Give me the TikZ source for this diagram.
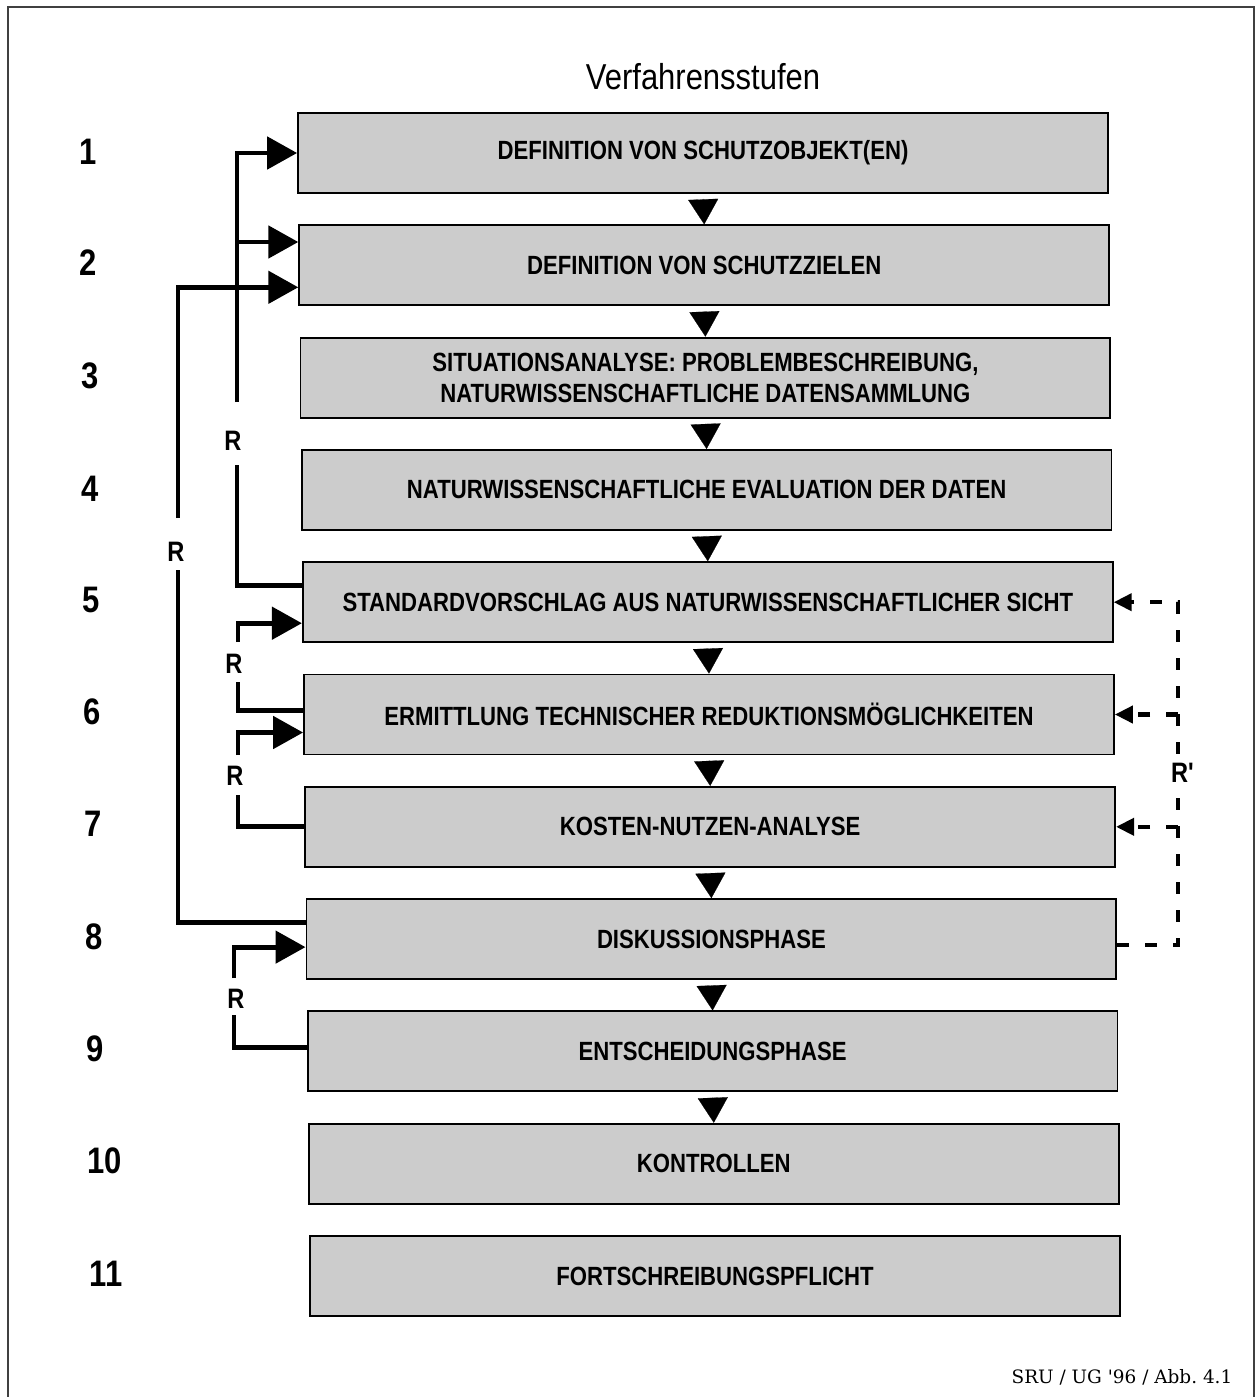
\documentclass[tikz,border=0pt]{standalone}
\usepackage{fontspec}
\setmainfont{Liberation Sans}
\newfontfamily\narrowfont[FakeStretch=0.84]{Liberation Sans}
\newfontfamily\titlefont[FakeStretch=0.86]{Liberation Sans}
\newfontfamily\footfont{DejaVu Serif}
\usepackage{tikz}
\usetikzlibrary{arrows.meta,positioning}

\begin{document}
\begin{tikzpicture}[
x=0.02cm,y=-0.02cm,
StepBox/.style={draw=black,line width=1.1pt,fill=black!20,minimum width=16.2cm,minimum height=1.6cm,align=center,font=\narrowfont\bfseries\fontsize{15}{17.6}\selectfont},
StepNumber/.style={font=\narrowfont\bfseries\fontsize{21}{25}\selectfont},
StepArrow/.style={line width=0.1pt,shorten <=1mm,-{Triangle[length=5mm,width=6mm]}},
Feedback/.style={line width=2.8pt,-{Triangle[length=6mm,width=6.4mm]}},
FeedbackLine/.style={line width=2.8pt},
FeedbackDashed/.style={line width=2.3pt,dash pattern=on 2.4mm off 3.2mm,-{Triangle[length=3.6mm,width=3.4mm]}},
RLabel/.style={font=\narrowfont\bfseries\fontsize{16}{19}\selectfont,inner sep=0pt}
]
\useasboundingbox (0,0) rectangle (1257,1397);
\draw[line width=1pt,black!75] (8,1397) -- (8,7) -- (1254,7) -- (1254,1397);

\node[font=\titlefont\fontsize{20.5}{24}\selectfont] (title) at (703,77) {Verfahrensstufen};

% Verfahrensstufen
\node[StepBox] (b1) at (703,153) {DEFINITION VON SCHUTZOBJEKT(EN)};
\node[StepBox] (b2) at (704.2,265.3) {DEFINITION VON SCHUTZZIELEN};
\node[StepBox] (b3) at (705.4,377.6) {SITUATIONSANALYSE: PROBLEMBESCHREIBUNG,\\NATURWISSENSCHAFTLICHE DATENSAMMLUNG};
\node[StepBox] (b4) at (706.6,489.9) {NATURWISSENSCHAFTLICHE EVALUATION DER DATEN};
\node[StepBox] (b5) at (707.8,602.2) {STANDARDVORSCHLAG AUS NATURWISSENSCHAFTLICHER SICHT};
\node[StepBox] (b6) at (709,714.5) {ERMITTLUNG TECHNISCHER REDUKTIONSMÖGLICHKEITEN};
\node[StepBox] (b7) at (710.2,826.8) {KOSTEN-NUTZEN-ANALYSE};
\node[StepBox] (b8) at (711.4,939.1) {DISKUSSIONSPHASE};
\node[StepBox] (b9) at (712.6,1051.4) {ENTSCHEIDUNGSPHASE};
\node[StepBox] (b10) at (713.8,1163.7) {KONTROLLEN};
\node[StepBox] (b11) at (715,1276) {FORTSCHREIBUNGSPFLICHT};

\node[StepNumber] (n1) at (88,152) {1};
\node[StepNumber] (n2) at (88,263) {2};
\node[StepNumber] (n3) at (90,376) {3};
\node[StepNumber] (n4) at (90,489) {4};
\node[StepNumber] (n5) at (91,600) {5};
\node[StepNumber] (n6) at (92,712) {6};
\node[StepNumber] (n7) at (93,824) {7};
\node[StepNumber] (n8) at (94,937) {8};
\node[StepNumber] (n9) at (95,1049) {9};
\node[StepNumber] (n10) at (105,1161) {10};
\node[StepNumber] (n11) at (106,1274) {11};

\draw[StepArrow] (b1.south) -- (b2.north);
\draw[StepArrow] (b2.south) -- (b3.north);
\draw[StepArrow] (b3.south) -- (b4.north);
\draw[StepArrow] (b4.south) -- (b5.north);
\draw[StepArrow] (b5.south) -- (b6.north);
\draw[StepArrow] (b6.south) -- (b7.north);
\draw[StepArrow] (b7.south) -- (b8.north);
\draw[StepArrow] (b8.south) -- (b9.north);
\draw[StepArrow] (b9.south) -- (b10.north);

% Rueckkopplungen links
\coordinate (aTop) at (237,402);
\coordinate (aBot) at (237,465);
\coordinate (jA) at (237,242);
\node[RLabel] (rA) at (233,441) {R};
\draw[FeedbackLine] ([yshift=3.4mm]b5.west) -| (aBot);
\draw[Feedback] (aTop) |- (b1.west);
\draw[Feedback] (jA) -- (jA -| b2.west);

\coordinate (bTop) at (178,518);
\coordinate (bBot) at (178,570);
\node[RLabel] (rB) at (176,552) {R};
\draw[FeedbackLine] ([yshift=3.4mm]b8.west) -| (bBot);
\draw[Feedback] (bTop) |- ([yshift=-4.4mm]b2.west);

\coordinate (cTop) at (238,642);
\coordinate (cBot) at (238,682);
\node[RLabel] (rC) at (234,664) {R};
\draw[FeedbackLine] ([yshift=0.8mm]b6.west) -| (cBot);
\draw[Feedback] (cTop) |- ([yshift=-4.2mm]b5.west);

\coordinate (dTop) at (238,755);
\coordinate (dBot) at (238,795);
\node[RLabel] (rD) at (235,776) {R};
\draw[FeedbackLine] (b7.west) -| (dBot);
\draw[Feedback] (dTop) |- ([yshift=-3.6mm]b6.west);

\coordinate (eTop) at (234,978);
\coordinate (eBot) at (234,1015);
\node[RLabel] (rE) at (236,999) {R};
\draw[FeedbackLine] ([yshift=0.8mm]b9.west) -| (eBot);
\draw[Feedback] (eTop) |- ([yshift=-1.6mm]b8.west);

% Rueckkopplung R' rechts
\coordinate (rr) at (1178,602.2);
\draw[FeedbackDashed] ([yshift=-1.2mm]b8.east) -| (rr) -- (b5.east);
\draw[FeedbackDashed] (rr |- b6.east) -- (b6.east);
\draw[FeedbackDashed] (rr |- b7.east) -- (b7.east);
\node[RLabel,fill=white,inner sep=2pt] (rP) at (1183,773) {R\textquotesingle};

\node[font=\footfont\fontsize{10.5}{12}\selectfont] (source) at (1122,1377) {SRU / UG '96 / Abb.\ 4.1};

\end{tikzpicture}
\end{document}
